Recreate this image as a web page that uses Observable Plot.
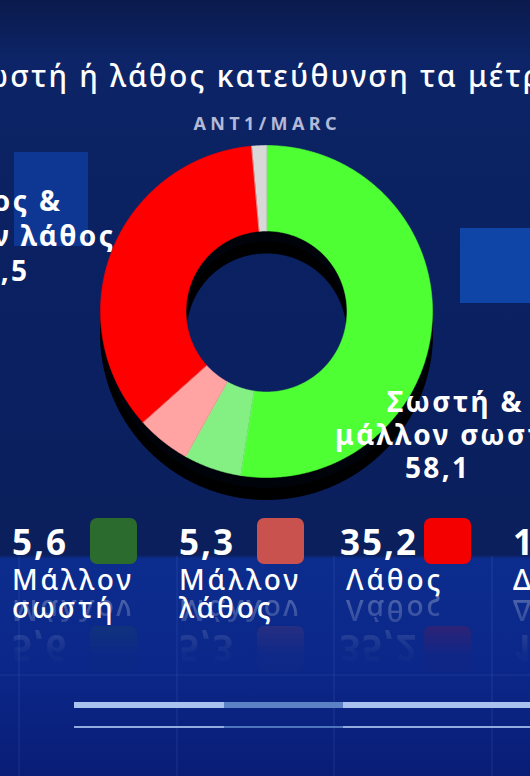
<!DOCTYPE html>
<html>
<head>
<meta charset="utf-8">
<script src="https://cdn.jsdelivr.net/npm/d3@7"></script>
<script src="https://cdn.jsdelivr.net/npm/@observablehq/plot@0.6"></script>
<style>
html,body{margin:0;padding:0;background:#0a2060;}
#stage{position:relative;width:530px;height:776px;overflow:hidden;font-family:"Noto Sans",sans-serif;}
.layer{position:absolute;left:0;top:0;}
#chart{position:absolute;left:0;top:130px;}
#chart svg{background:transparent;}
</style>
</head>
<body>
<div id="stage"><div id="chart"></div></div>
<script>
// ---------------- data ----------------
const categories = ["Σωστή", "Μάλλον σωστή", "Μάλλον λάθος", "Λάθος", "Δεν ξέρω"];
const values = [52.5, 5.6, 5.3, 35.2, 1.4];
const legendLines = [["Σωστή"], ["Μάλλον", "σωστή"], ["Μάλλον", "λάθος"], ["Λάθος"], ["Δεν ξέρω"]];
const ringColors = ["#4dff33", "#84f084", "#ffa3a3", "#ff0000", "#d8d8d8"];
const legendColors = ["#4dff33", "#2c6b2e", "#c9514e", "#f50000", "#d8d8d8"];
const groupNames = ["Σωστή & μάλλον σωστή", "Λάθος & μάλλον λάθος"];
const groupValues = [58.1, 40.5];
const titleText = "Σε σωστή ή λάθος κατεύθυνση τα μέτρα;";
const sourceText = "ANT1/MARC";

const fmt = v => String(v).replace(".", ",");
const W = 530, H = 776;
const stage = d3.select("#stage");

// ---------------- background ----------------
const bg = stage.insert("svg", "#chart").attr("class", "layer").attr("width", W).attr("height", H);
const defs = bg.append("defs");
const g1 = defs.append("linearGradient").attr("id", "bgGrad").attr("x1", 0).attr("y1", 0).attr("x2", 0).attr("y2", 1);
[[0, "#0a1a4c"], [0.08, "#0d2568"], [0.18, "#0b2263"], [0.5, "#0a2060"], [0.715, "#0b1f5c"],
 [0.72, "#0c2d8e"], [0.86, "#0b2789"], [1, "#091d76"]].forEach(([o, c]) =>
  g1.append("stop").attr("offset", o).attr("stop-color", c));
bg.append("rect").attr("width", W).attr("height", H).attr("fill", "url(#bgGrad)");
// decorative panels
bg.append("rect").attr("x", 14).attr("y", 152).attr("width", 74).attr("height", 94).attr("fill", "#0e3794");
bg.append("rect").attr("x", 460).attr("y", 228).attr("width", 80).attr("height", 75).attr("fill", "#1045a8");
// faint grid
[18, 176, 333, 491].forEach(x => bg.append("rect").attr("x", x).attr("y", 556).attr("width", 2).attr("height", 220).attr("fill", "rgba(120,160,255,0.08)"));
bg.append("rect").attr("x", 0).attr("y", 674).attr("width", W).attr("height", 2).attr("fill", "rgba(120,160,255,0.07)");
// bottom bars
const barSegs = [[74, 224, "#a9c3ee"], [224, 343, "#5a82c4"], [343, 530, "#a9c3ee"]];
barSegs.forEach(([a, b, c]) => {
  bg.append("rect").attr("x", a).attr("y", 702).attr("width", b - a).attr("height", 6).attr("fill", c);
  bg.append("rect").attr("x", a).attr("y", 726).attr("width", b - a).attr("height", 2).attr("fill", c).attr("opacity", 0.85);
});

// ---------------- donut (Plot) ----------------
const innerR = 0.485;
const arcs = d3.pie().sort(null).value(d => d)(values);
const pts = [];
arcs.forEach((a, i) => {
  const n = Math.max(2, Math.ceil((a.endAngle - a.startAngle) / (Math.PI / 360)));
  for (let k = 0; k <= n; k++) {
    const t = a.startAngle + (a.endAngle - a.startAngle) * k / n;
    pts.push({key: categories[i], x: Math.sin(t), y: Math.cos(t), fill: ringColors[i]});
  }
  for (let k = n; k >= 0; k--) {
    const t = a.startAngle + (a.endAngle - a.startAngle) * k / n;
    pts.push({key: categories[i], x: innerR * Math.sin(t), y: innerR * Math.cos(t), fill: ringColors[i]});
  }
});

const chart = Plot.plot({
  width: W, height: 400, margin: 0,
  x: {domain: [-1, 1], range: [100, 432], axis: null},
  y: {domain: [-1, 1], range: [347, 15], axis: null},
  color: {type: "identity"},
  style: {background: "transparent", overflow: "visible"},
  marks: [
    Plot.line(pts, {x: "x", y: "y", z: "key", fill: "#000", stroke: "#000", strokeWidth: 1, curve: "linear-closed", dy: 22}),
    Plot.line(pts, {x: "x", y: "y", z: "key", fill: "#020612", stroke: "#020612", strokeWidth: 1, curve: "linear-closed", dy: 10, opacity: 0.6}),
    Plot.line(pts, {x: "x", y: "y", z: "key", fill: "fill", stroke: "fill", strokeWidth: 0.6, curve: "linear-closed"})
  ]
});
document.getElementById("chart").appendChild(chart);

// ---------------- text overlay ----------------
const ov = stage.append("svg").attr("class", "layer").attr("width", W).attr("height", H);
const cv = document.createElement("canvas").getContext("2d");
const measure = (s, font) => { cv.font = font; return cv.measureText(s).width; };

// title
const tFont = "500 30px 'Noto Sans'";
const mid = "λάθος κατεύθυνση τα ";
const pre = "Σε σωστή ή ";
const tls = (358 - measure(mid, tFont)) / mid.length;
const tx = 110 - (measure(pre, tFont) + pre.length * tls);
ov.append("text").attr("x", tx).attr("y", 87).attr("fill", "#fff")
  .style("font", tFont).attr("letter-spacing", tls).text(titleText);

// source
const sFont = "700 18px 'Noto Sans'";
const sls = (143 - measure(sourceText, sFont)) / (sourceText.length - 1);
ov.append("text").attr("x", 265 - 143 / 2).attr("y", 130).attr("fill", "#b3b9d6")
  .style("font", sFont).attr("letter-spacing", sls).text(sourceText);

// group labels
const gFont = "700 28px 'Noto Sans'";
const gls = ((108 - measure("μάλλον", gFont)) / 6 + (101 - measure("λάθος", gFont)) / 5) / 2;
const splitGroup = (name, v) => { const p = name.split(" & "); return [p[0] + " &", p[1], fmt(v)]; };
const rightLines = splitGroup(groupNames[0], groupValues[0]);
const leftLines = splitGroup(groupNames[1], groupValues[1]);
const rightPos = [[387, 412], [335, 445], [405, 478]];
const leftPos = [[60, 211], [113, 246], [27, 281]];
rightLines.forEach((s, i) => ov.append("text").attr("x", rightPos[i][0]).attr("y", rightPos[i][1])
  .attr("fill", "#fff").style("font", gFont).attr("letter-spacing", gls).text(s));
leftLines.forEach((s, i) => ov.append("text").attr("x", leftPos[i][0] + gls).attr("y", leftPos[i][1])
  .attr("text-anchor", "end").attr("fill", "#fff").style("font", gFont).attr("letter-spacing", gls).text(s));

// legend
const nFont = "700 35px 'Noto Sans'";
const lFont = "500 28px 'Noto Sans'";
const lls = (122 - measure("Μάλλον", lFont)) / 6;
const cellW = 167, cell0 = 12 - cellW;
const axisY = 595;
const mdefs = ov.append("defs");
const mg = mdefs.append("linearGradient").attr("id", "fadeGrad").attr("gradientUnits", "userSpaceOnUse")
  .attr("x1", 0).attr("y1", axisY).attr("x2", 0).attr("y2", axisY + 60);
mg.append("stop").attr("offset", 0).attr("stop-color", "#fff").attr("stop-opacity", 0.28);
mg.append("stop").attr("offset", 1).attr("stop-color", "#fff").attr("stop-opacity", 0.02);
mdefs.append("mask").attr("id", "fade").attr("maskUnits", "userSpaceOnUse")
  .attr("x", 0).attr("y", 0).attr("width", W).attr("height", H)
  .append("rect").attr("x", 0).attr("y", axisY).attr("width", W).attr("height", 80).attr("fill", "url(#fadeGrad)");

const reflWrap = ov.append("g").attr("mask", "url(#fade)");
const refl = reflWrap.append("g").attr("transform", `translate(0,${2 * axisY}) scale(1,-1)`);
const front = ov.append("g");

categories.forEach((c, i) => {
  const x0 = cell0 + i * cellW;
  const sqX = x0 + 78;
  const numStr = fmt(values[i]);
  const nw = measure(numStr, nFont) + numStr.length * 2;
  const nx = Math.min(x0, sqX - 6 - nw);
  const lines = legendLines[i];
  [refl, front].forEach(g => {
    g.append("text").attr("x", nx).attr("y", 555).attr("fill", "#fff").style("font", nFont)
      .attr("letter-spacing", 2).text(numStr);
    g.append("rect").attr("x", sqX).attr("y", 518).attr("width", 47).attr("height", 46).attr("rx", 7)
      .attr("fill", legendColors[i]);
    g.append("text").attr("x", x0).attr("y", 590).attr("fill", "#fff").style("font", lFont)
      .attr("letter-spacing", lls).text(lines[0]);
  });
  if (lines[1]) front.append("text").attr("x", x0).attr("y", 618).attr("fill", "#fff").style("font", lFont)
    .attr("letter-spacing", lls).text(lines[1]);
});
</script>
</body>
</html>
